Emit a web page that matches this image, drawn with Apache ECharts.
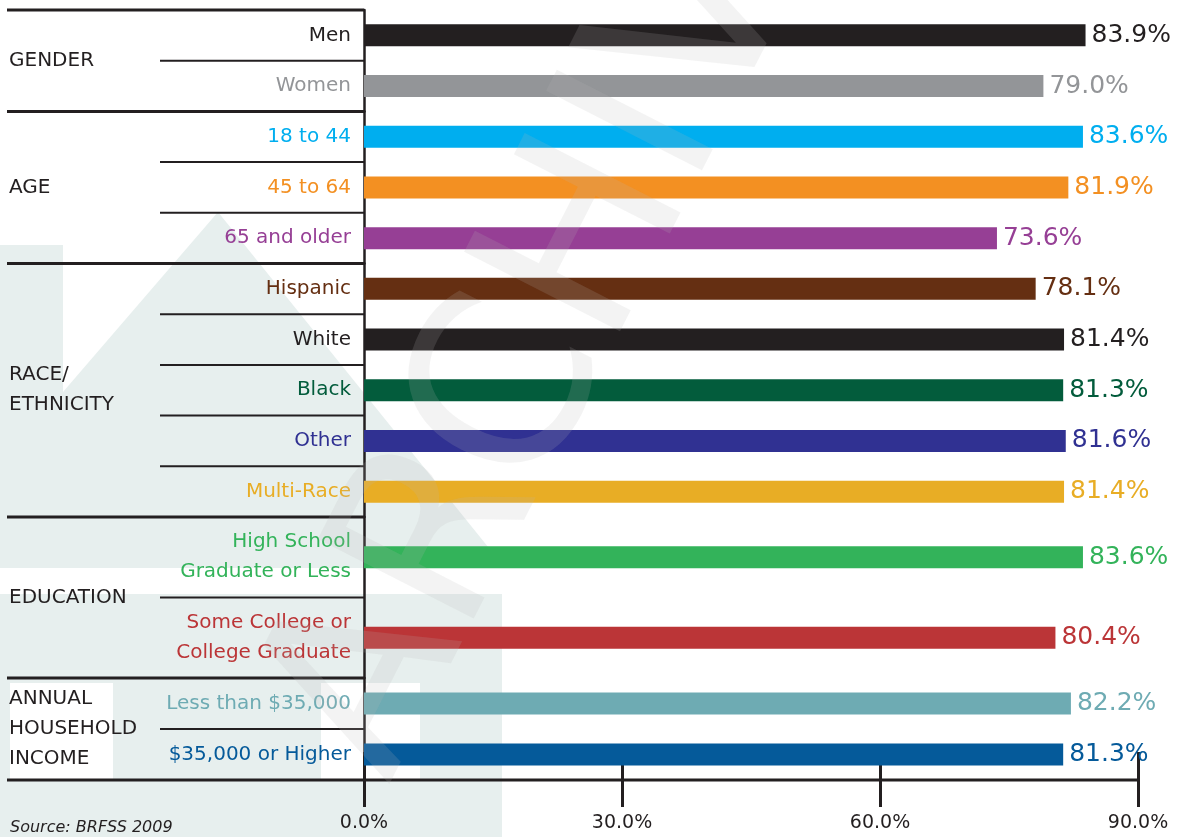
<!DOCTYPE html>
<html>
<head>
<meta charset="utf-8">
<script src="https://cdn.jsdelivr.net/npm/echarts@6/dist/echarts.min.js"></script>
<style>html,body{margin:0;padding:0;background:#fff}#c{width:1182px;height:837px}</style>
</head>
<body>
<div id="c"></div>
<script>
// ---------------- data ----------------
const categories = ['Men', 'Women', '18 to 44', '45 to 64', '65 and older',
  'Hispanic', 'White', 'Black', 'Other', 'Multi-Race',
  'High School\nGraduate or Less', 'Some College or\nCollege Graduate',
  'Less than $35,000', '$35,000 or Higher'];
const values = [83.9, 79.0, 83.6, 81.9, 73.6, 78.1, 81.4, 81.3, 81.6, 81.4, 83.6, 80.4, 82.2, 81.3];
const colors = ['#231f20', '#939598', '#00aeef', '#f39022', '#963f95', '#652f12', '#231f20', '#035c3c',
  '#303192', '#e8ad25', '#33b35a', '#bb3537', '#6eabb3', '#055a9a'];
const groupNames = ['GENDER', 'AGE', 'RACE/\nETHNICITY', 'EDUCATION', 'ANNUAL\nHOUSEHOLD\nINCOME'];
const groupSizes = [2, 3, 5, 2, 2];
const axisMin = 0, axisMax = 90, axisStep = 30;
const sourceText = 'Source: BRFSS 2009';
const watermarkText = 'ARCHIVE';

// ---------------- layout ----------------
const plotLeft = 364, plotRight = 1138;
const top0 = 10;
const rowHeights = [50.7, 50.7, 50.7, 80.5, 51];
const FONT = 'DejaVu Sans';
const INK = '#231f20';
const TEAL = '#e7efee';

const grids = [], xAxes = [], yAxes = [], series = [], graphics = [];

function hline(x1, y, x2, w) {
  return {type: 'line', z: 20, silent: true,
    shape: {x1: x1, y1: y, x2: x2, y2: y},
    style: {stroke: INK, lineWidth: w}};
}

// background shapes
graphics.push({type: 'polygon', z: -20, silent: true,
  shape: {points: [[0, 245], [63, 245], [63, 392], [218, 212], [505, 568], [0, 568]]},
  style: {fill: TEAL}});
graphics.push({type: 'rect', z: -20, silent: true,
  shape: {x: 0, y: 594, width: 502, height: 243}, style: {fill: TEAL}});
graphics.push({type: 'rect', z: -19, silent: true,
  shape: {x: 10, y: 683, width: 103, height: 97}, style: {fill: '#ffffff'}});
graphics.push({type: 'rect', z: -19, silent: true,
  shape: {x: 321, y: 683, width: 99, height: 97}, style: {fill: '#ffffff'}});

let y = top0, start = 0;
const bounds = [top0];
groupSizes.forEach((n, g) => {
  const h = n * rowHeights[g];
  const cats = categories.slice(start, start + n);
  const vals = values.slice(start, start + n);
  const cols = colors.slice(start, start + n);
  const last = g === groupSizes.length - 1;
  grids.push({left: plotLeft, width: plotRight - plotLeft, top: y, height: h,
    containLabel: false, outerBoundsMode: 'none'});
  xAxes.push({gridIndex: g, type: 'value', min: axisMin, max: axisMax, interval: axisStep,
    show: last, position: 'bottom', offset: last ? -28 : 0,
    axisLine: {show: false},
    axisTick: {show: true, length: 55, lineStyle: {color: INK, width: 3}},
    splitLine: {show: false},
    axisLabel: {margin: 62, color: INK, fontSize: 19, fontFamily: FONT,
      formatter: v => v.toFixed(1) + '%'}});
  yAxes.push({gridIndex: g, type: 'category', data: cats, inverse: true,
    axisLine: {show: true, lineStyle: {color: INK, width: 2.5}},
    axisTick: {show: false}, splitLine: {show: false},
    axisLabel: {margin: 13, fontSize: 20, lineHeight: 30, fontFamily: FONT,
      color: v => colors[categories.indexOf(v)]}});
  series.push({type: 'bar', xAxisIndex: g, yAxisIndex: g, barWidth: 22, silent: true,
    data: vals.map((v, i) => ({value: v, itemStyle: {color: cols[i]}, label: {color: cols[i]}})),
    label: {show: true, position: 'right', distance: 6, fontSize: 25, fontFamily: FONT,
      formatter: p => p.value.toFixed(1) + '%'}});
  for (let k = 1; k < n; k++) graphics.push(hline(160, y + k * rowHeights[g], plotLeft, 2));
  graphics.push({type: 'text', z: 20, silent: true, x: 9, y: y + h / 2,
    style: {text: groupNames[g], fill: INK, fontSize: 20, lineHeight: 30, fontFamily: FONT,
      align: 'left', verticalAlign: 'middle'}});
  y += h; start += n; bounds.push(y);
});
bounds.forEach((b, i) => graphics.push(hline(7, b, i === bounds.length - 1 ? 1140 : plotLeft, 3)));

graphics.push({type: 'text', z: 20, silent: true, x: 10, y: 828,
  style: {text: sourceText, fill: INK, fontSize: 16, fontStyle: 'italic', fontFamily: FONT,
    align: 'left', verticalAlign: 'middle'}});

// watermark
graphics.push({type: 'text', z: 100, silent: true, x: 572, y: 288, rotation: 63 * Math.PI / 180,
  style: {text: watermarkText, fill: 'rgba(185,185,185,0.17)', fontSize: 240, fontFamily: FONT,
    align: 'center', verticalAlign: 'middle'}});

const chart = echarts.init(document.getElementById('c'), null, {renderer: 'canvas'});
chart.setOption({
  backgroundColor: '#ffffff',
  animation: false,
  grid: grids,
  xAxis: xAxes,
  yAxis: yAxes,
  series: series,
  graphic: {elements: graphics}
});
</script>
</body>
</html>
